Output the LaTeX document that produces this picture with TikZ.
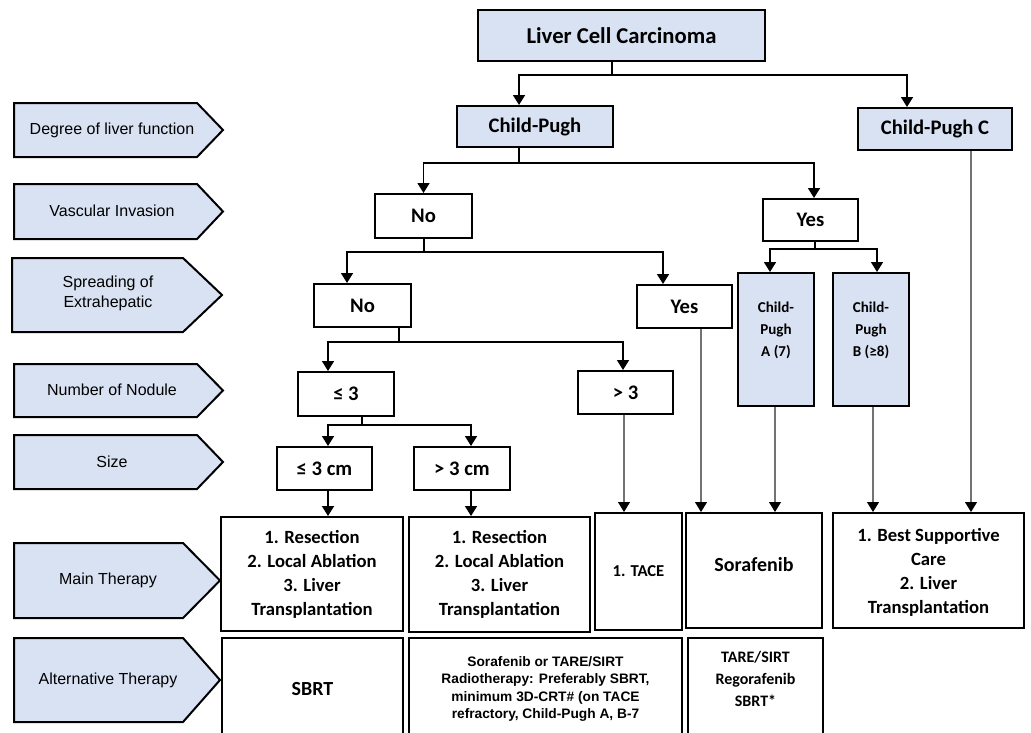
\documentclass[tikz,border=0pt]{standalone}
\usepackage{fontspec}
\setmainfont{Carlito}
\newfontfamily\arialfont{Liberation Sans}
\usetikzlibrary{arrows.meta,calc}

\definecolor{cellblue}{RGB}{217,226,243}
\tikzset{every picture/.style={line width=0.75pt}}
\newcommand{\upstack}[2]{\raisebox{#1}[\height][\depth]{\begin{tabular}{@{}c@{}}#2\end{tabular}}}

\begin{document}
\begin{tikzpicture}[x=0.75pt,y=0.75pt,yscale=-1,xscale=1,
	box/.style={draw, line width=1.5pt, align=center, inner sep=0pt, font=\fontsize{15.5}{18}\selectfont\bfseries},
	bluebox/.style={box, fill=cellblue},
	listbox/.style={box, font=\fontsize{14}{18}\selectfont\bfseries},
	tagshape/.style={draw, line width=1.5pt, fill=cellblue, line join=miter},
	tagtext/.style={align=center, font=\arialfont\fontsize{12}{15}\selectfont},
	conn/.style={line width=1.2pt},
	arr/.style={conn, -{Triangle[width=9pt,length=7.5pt]}},
	thinarr/.style={draw=black!55, line width=0.8pt, -{Triangle[width=9pt,length=7.5pt,color=black]}}]
	%set diagram to the size of the figure
	\useasboundingbox (0,0) rectangle (1031,732);
	\clip (0,0) rectangle (1031,732);

	%Shape: Pentagon labels on the left
	\draw [tagshape] (14,103) -- (197,103) -- (223,130) -- (197,157) -- (14,157) -- cycle ;
	\node [tagtext] (l1) at (112,130) {Degree of liver function};
	\draw [tagshape] (14,184) -- (197,184) -- (223,211.5) -- (197,239) -- (14,239) -- cycle ;
	\node [tagtext] (l2) at (112,211) {Vascular Invasion};
	\draw [tagshape] (12,258) -- (183,258) -- (222,295) -- (183,332) -- (12,332) -- cycle ;
	\node [tagtext] (l3) at (108,293) {Spreading of\\Extrahepatic};
	\draw [tagshape] (14,364) -- (197,364) -- (223,390.5) -- (197,417) -- (14,417) -- cycle ;
	\node [tagtext] (l4) at (112,390) {Number of Nodule};
	\draw [tagshape] (14,435) -- (197,435) -- (223,462) -- (197,489) -- (14,489) -- cycle ;
	\node [tagtext] (l5) at (112,462) {Size};
	\draw [tagshape] (14,543) -- (183,543) -- (220,580.5) -- (183,618) -- (14,618) -- cycle ;
	\node [tagtext] (l6) at (108,580) {Main Therapy};
	\draw [tagshape] (14,638) -- (183,638) -- (220,680) -- (183,722) -- (14,722) -- cycle ;
	\node [tagtext] (l7) at (108,680) {Alternative Therapy};

	%Shape: Rectangle, decision boxes
	\node [bluebox, minimum width=215.25pt, minimum height=38.25pt, font=\fontsize{17}{20}\selectfont\bfseries] (lcc) at (621.5,35.5) {Liver Cell Carcinoma};
	\node [bluebox, minimum width=117pt, minimum height=30.75pt] (cp) at (535,126.5) {Child-Pugh};
	\node [bluebox, minimum width=115.5pt, minimum height=31.5pt] (cpc) at (935,129) {Child-Pugh C};
	\node [box, minimum width=72.75pt, minimum height=33pt] (vno) at (423.5,216) {No};
	\node [box, minimum width=71.25pt, minimum height=31.5pt] (vyes) at (810.5,220) {Yes};
	\node [box, minimum width=72.75pt, minimum height=32.25pt] (sno) at (362.5,305.5) {No};
	\node [box, minimum width=71.25pt, minimum height=32.25pt] (syes) at (684.5,306.5) {Yes};
	\node [bluebox, minimum width=57pt, minimum height=99.75pt, font=\fontsize{11.3}{16.3}\selectfont\bfseries] (cpa) at (776,339.5) {\upstack{7pt}{Child-\\Pugh\\A (7)}};
	\node [bluebox, minimum width=57pt, minimum height=99.75pt, font=\fontsize{11.3}{16.3}\selectfont\bfseries] (cpb) at (871,339.5) {\upstack{7pt}{Child-\\Pugh\\B (≥8)}};
	\node [box, minimum width=72pt, minimum height=33pt] (le3) at (346,394) {≤ 3};
	\node [box, minimum width=71.25pt, minimum height=32.25pt] (gt3) at (625.5,392.5) {> 3};
	\node [box, minimum width=71.25pt, minimum height=32.25pt] (le3cm) at (324.5,468.5) {≤ 3 cm};
	\node [box, minimum width=72pt, minimum height=32.25pt] (gt3cm) at (462,468.5) {> 3 cm};

	%Shape: Rectangle, therapy boxes
	\node [listbox, minimum width=136.5pt, minimum height=85.5pt] (m1) at (312,574) {1. Resection\\2. Local Ablation\\3. Liver\\Transplantation};
	\node [listbox, minimum width=135.75pt, minimum height=86.25pt] (m2) at (499.5,574.5) {1. Resection\\2. Local Ablation\\3. Liver\\Transplantation};
	\node [box, minimum width=65.25pt, minimum height=87.75pt, font=\fontsize{12.5}{15}\selectfont\bfseries] (tace) at (638.5,571.5) {1. TACE};
	\node [box, minimum width=102pt, minimum height=86.25pt, font=\fontsize{15}{18}\selectfont\bfseries] (sora) at (754,570.5) {\raisebox{9pt}{Sorafenib}};
	\node [listbox, minimum width=143.25pt, minimum height=86.25pt] (bsc) at (928.5,570.5) {\upstack{-2pt}{1. Best Supportive\\Care\\2. Liver\\Transplantation}};
	\node [box, minimum width=135.75pt, minimum height=76.5pt, font=\fontsize{15}{18}\selectfont\bfseries] (a1) at (312.5,689) {SBRT};
	\node [box, minimum width=204.75pt, minimum height=76.5pt, font=\arialfont\fontsize{10.3}{12.8}\selectfont\bfseries] (a2) at (545.5,689) {Sorafenib or TARE/SIRT\\Radiotherapy: Preferably SBRT,\\minimum 3D-CRT\# (on TACE\\refractory, Child-Pugh A, B-7};
	\node [box, minimum width=101.25pt, minimum height=76.5pt, font=\fontsize{12}{16.5}\selectfont\bfseries] (a3) at (755.5,689) {\upstack{6.75pt}{TARE/SIRT\\Regorafenib\\SBRT*}};

	%Straight Lines, branch points
	\coordinate (j1) at (612,75);
	\coordinate (j2) at (519,163);
	\coordinate (j3) at (424,252);
	\coordinate (j4) at (815,249);
	\coordinate (j5) at (399,342);
	\coordinate (j6) at (362,425);

	\draw [conn] (lcc.south -| j1) -- (j1);
	\draw [arr] (j1) -| (cp.north -| j2);
	\draw [arr] (j1) -| ($(cpc.north)+(-28,0)$);

	\draw [conn] (cp.south -| j2) -- (j2);
	\draw [arr] (j2) -| (vno.north);
	\draw [arr] (j2) -| ($(vyes.north)+(3.5,0)$);

	\draw [conn] (vno.south -| j3) -- (j3);
	\draw [arr] (j3) -| ($(sno.north)+(-15.5,0)$);
	\draw [arr] (j3) -| ($(syes.north)+(-21.5,0)$);

	\draw [conn] (vyes.south -| j4) -- (j4);
	\draw [arr] (j4) -| ($(cpa.north)+(-6,0)$);
	\draw [arr] (j4) -| ($(cpb.north)+(6,0)$);

	\draw [conn] (sno.south -| j5) -- (j5);
	\draw [arr] (j5) -| ($(le3.north)+(-18,0)$);
	\draw [arr] (j5) -| ($(gt3.north)+(-2.5,0)$);

	\draw [conn] (le3.south -| j6) -- (j6);
	\draw [arr] (j6) -| ($(le3cm.north)+(3.5,0)$);
	\draw [arr] (j6) -| ($(gt3cm.north)+(9,0)$);

	%Straight Lines, down to therapy
	\draw [arr] ($(le3cm.south)+(3.5,0)$) coordinate (k1) -- (k1 |- m1.north);
	\draw [arr] ($(gt3cm.south)+(9,0)$) coordinate (k2) -- (k2 |- m2.north);
	\draw [thinarr] ($(gt3.south)+(-1.5,0)$) coordinate (k3) -- (k3 |- tace.north);
	\draw [thinarr] ($(syes.south)+(16.5,0)$) coordinate (k4) -- (k4 |- sora.north);
	\draw [thinarr] ($(cpa.south)+(-1,0)$) coordinate (k5) -- (k5 |- sora.north);
	\draw [thinarr] ($(cpb.south)+(2,0)$) coordinate (k6) -- (k6 |- bsc.north);
	\draw [thinarr] ($(cpc.south)+(36,0)$) coordinate (k7) -- (k7 |- bsc.north);
\end{tikzpicture}
\end{document}
